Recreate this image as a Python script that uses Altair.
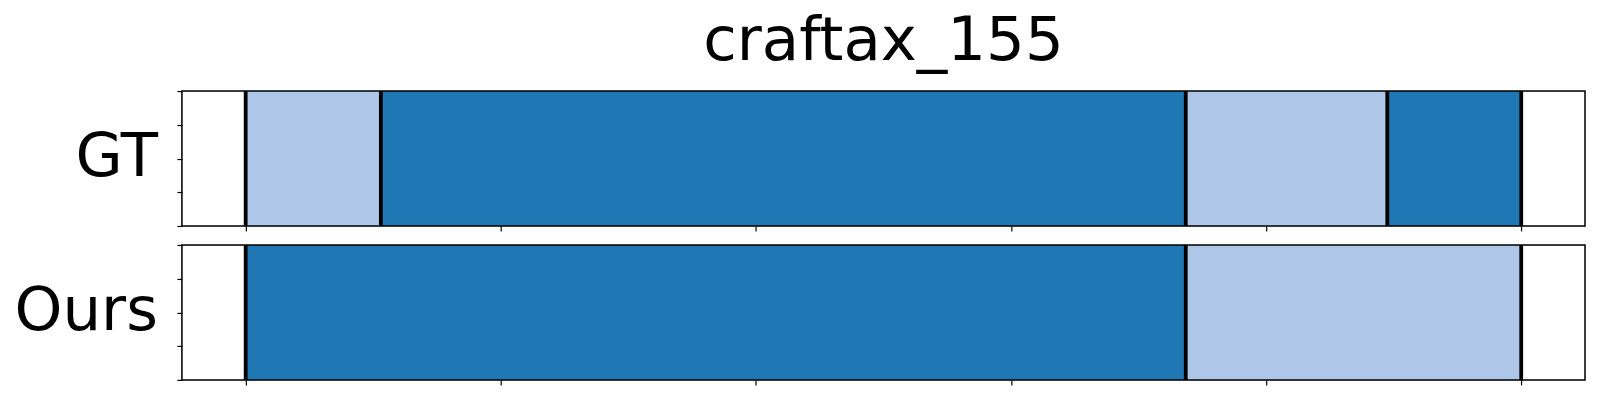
import altair as alt
import pandas as pd

title_text = "craftax_155"
row_names = ["GT", "Ours"]
gt_bounds = [0, 10.6, 73.7, 89.5, 100]
gt_classes = ["b", "a", "b", "a"]
ours_bounds = [0, 73.7, 100]
ours_classes = ["a", "b"]
class_names = ["a", "b"]
class_colors = ["#1f77b4", "#aec7e8"]
x_ticks = [0, 20, 40, 60, 80, 100]
y_ticks = [0, 0.25, 0.5, 0.75, 1.0]
x_domain = [-5, 105]

FONT = "DejaVu Sans"
W, H = 1404, 135


def panel(name, bounds, classes, title=None):
    seg = pd.DataFrame({"start": bounds[:-1], "end": bounds[1:], "cls": classes,
                        "y0": [0] * len(classes), "y1": [1] * len(classes)})
    edges = pd.DataFrame({"x": bounds})
    xs = alt.Scale(domain=x_domain, nice=False, zero=False)
    xaxis = alt.Axis(values=x_ticks, labels=False, title=None, domain=False, grid=False,
                     ticks=True, tickSize=5, tickColor="black", tickWidth=1.2)
    yaxis = alt.Axis(values=y_ticks, labels=False, title=None, domain=False, grid=False,
                     ticks=True, tickSize=5, tickColor="black", tickWidth=1.2)
    bars = alt.Chart(seg).mark_rect().encode(
        x=alt.X("start:Q", scale=xs, axis=xaxis),
        x2="end:Q",
        y=alt.Y("y0:Q", scale=alt.Scale(domain=[0, 1], nice=False, zero=False), axis=yaxis),
        y2="y1:Q",
        color=alt.Color("cls:N", scale=alt.Scale(domain=class_names, range=class_colors), legend=None),
    )
    lines = alt.Chart(edges).mark_rule(color="black", strokeWidth=3.8).encode(
        x=alt.X("x:Q", scale=xs)
    )
    frame = alt.Chart(pd.DataFrame({"f": [0]})).mark_rect(
        fillOpacity=0, stroke="black", strokeWidth=1.5
    ).encode(x=alt.value(0), x2=alt.value(W), y=alt.value(0), y2=alt.value(H))
    label = alt.Chart(pd.DataFrame({"t": [name]})).mark_text(
        align="right", baseline="alphabetic", fontSize=61, font=FONT, color="black"
    ).encode(x=alt.value(-24), y=alt.value(85), text="t:N")
    props = dict(width=W, height=H)
    if title:
        props["title"] = alt.TitleParams(title, fontSize=61, font=FONT, fontWeight="normal",
                                         color="black", anchor="middle", frame="group",
                                         baseline="alphabetic", offset=-32)
    return alt.layer(bars, lines, frame, label).properties(**props)


top = panel(row_names[0], gt_bounds, gt_classes, title=title_text)
bottom = panel(row_names[1], ours_bounds, ours_classes)

chart = alt.vconcat(top, bottom, spacing=9).properties(
    padding={"left": 5, "top": 2, "right": 5, "bottom": 5}
).configure_view(stroke=None).configure(background="white")

chart.save("out.html", embed_options={"renderer": "svg", "actions": False})
